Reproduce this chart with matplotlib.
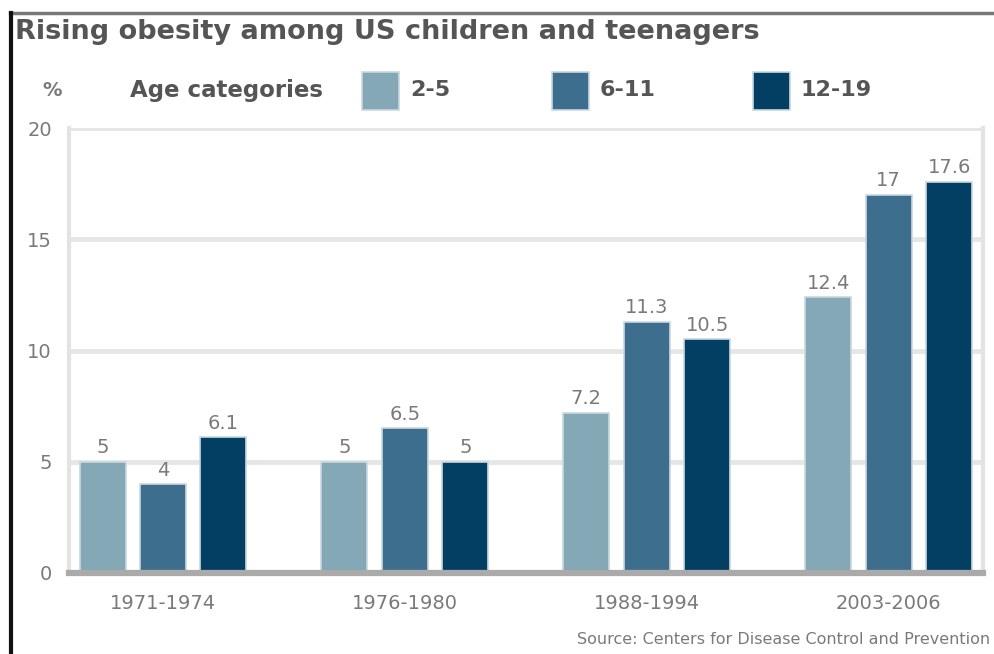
import numpy as np
from matplotlib import pyplot as plt
from matplotlib.patches import Rectangle
from matplotlib.lines import Line2D

periods = ['1971-1974', '1976-1980', '1988-1994', '2003-2006']
age_groups = ['2-5', '6-11', '12-19']
age_2_5 = [5, 5, 7.2, 12.4]
age_6_11 = [4, 6.5, 11.3, 17]
age_12_19 = [6.1, 5, 10.5, 17.6]
colors = ['#85a8b7', '#3e6e8e', '#033f63']
yticks = [0, 5, 10, 15, 20]

txt = '#7a7a7a'

fig = plt.figure(figsize=(9.95, 6.54), dpi=100)
ax = fig.add_axes([0.069, 0.124, 0.919, 0.680])

x = np.arange(len(periods))
step = 0.25
width = 0.19
for i, vals in enumerate([age_2_5, age_6_11, age_12_19]):
    bars = ax.bar(x + (i - 1) * step, vals, width, color=colors[i],
                  edgecolor='#c9d8e0', linewidth=1.2, zorder=2)
    for b, v in zip(bars, vals):
        ax.text(b.get_x() + b.get_width() / 2, v + 0.2, f'{v:g}',
                ha='center', va='bottom', fontsize=14, color=txt)

ax.set_xlim(-0.39, 3.39)
ax.set_ylim(0, 20)
ax.set_yticks(yticks)
ax.set_xticks(x)
ax.set_xticklabels(periods)
ax.tick_params(axis='both', length=0, labelsize=14, colors=txt)
ax.tick_params(axis='x', pad=15)
ax.tick_params(axis='y', pad=12)
ax.yaxis.grid(True, color='#e6e6e6', linewidth=3.5, zorder=1)
ax.set_axisbelow(True)
ax.spines['top'].set_visible(False)
ax.spines['left'].set_color('#e3e3e3')
ax.spines['left'].set_linewidth(3)
ax.spines['right'].set_color('#e3e3e3')
ax.spines['right'].set_linewidth(3)
ax.spines['bottom'].set_color('#aaaaaa')
ax.spines['bottom'].set_linewidth(4.5)
ax.spines['bottom'].set_zorder(3)

# frame lines of the original graphic
fig.add_artist(Line2D([0.010, 1.0], [0.980, 0.980], color='#777777', lw=2.5))
fig.add_artist(Line2D([0.011, 0.011], [0.0, 0.980], color='#111111', lw=3))

fig.text(0.015, 0.951, 'Rising obesity among US children and teenagers',
         fontsize=19.5, fontweight='bold', color='#555555', va='center')

# legend row
fig.text(0.043, 0.862, '%', fontsize=14, color=txt, va='center', fontweight='bold')
fig.text(0.131, 0.862, 'Age categories', fontsize=16.5, color='#555555',
         va='center', fontweight='bold')
patch_x = [0.364, 0.555, 0.757]
for px, c, lab in zip(patch_x, colors, age_groups):
    fig.add_artist(Rectangle((px, 0.832), 0.037, 0.058, facecolor=c,
                             edgecolor='#c9d8e0', lw=1.2, transform=fig.transFigure))
    fig.text(px + 0.048, 0.862, lab, fontsize=16, color='#555555',
             va='center', fontweight='bold')

fig.text(0.995, 0.022, 'Source: Centers for Disease Control and Prevention',
         fontsize=11.5, color=txt, ha='right', va='center')

plt.savefig('out.png', dpi=100)
